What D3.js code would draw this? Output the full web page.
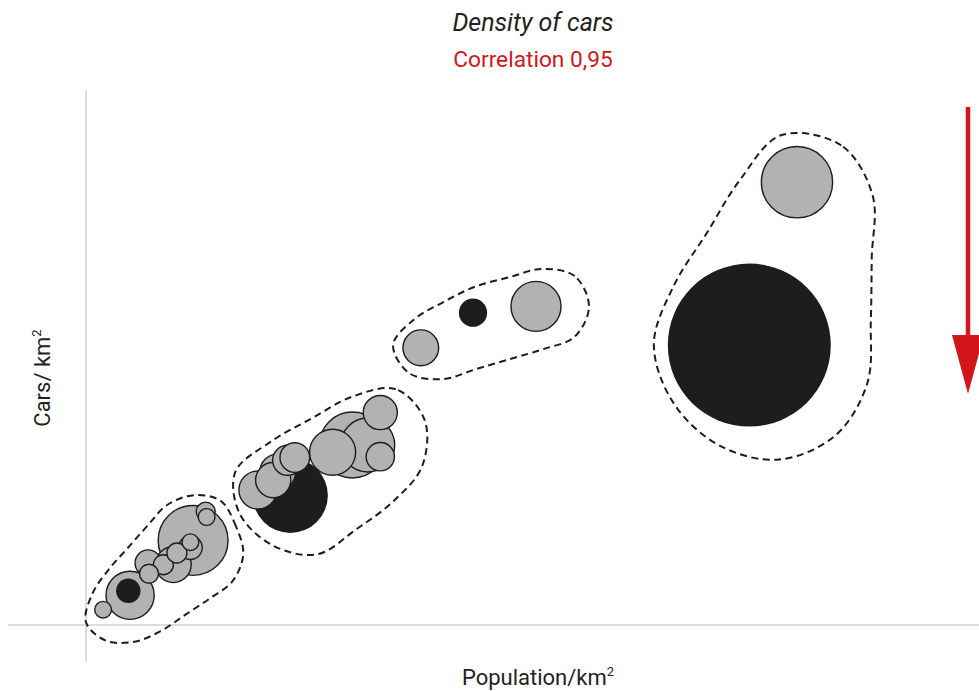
<!DOCTYPE html>
<html>
<head>
<meta charset="utf-8">
<script src="https://cdn.jsdelivr.net/npm/d3@7"></script>
<style>
  body { margin: 0; background: #fff; }
  text { font-family: Roboto, "Noto Sans", sans-serif; }
</style>
</head>
<body>
<div id="chart"></div>
<script>
// one entry per country: population/km2, cars/km2, bubble size, highlighted (black), cluster
var popDensity = [1.9, 4.9, 4.7, 7.0, 6.9, 8.6, 9.7, 10.1, 11.6, 11.6, 11.9, 13.3, 13.4,
                  22.7, 19.1, 20.8, 21.3, 22.4, 23.2, 27.4, 29.6, 31.3, 32.7, 32.7,
                  37.2, 43.0, 50.0,
                  73.7, 79.0];
var carDensity = [1.7, 3.3, 3.8, 5.7, 6.9, 6.7, 6.7, 8.0, 8.6, 9.2, 9.4, 12.6, 12.0,
                  14.4, 15.0, 16.1, 17.0, 18.3, 18.6, 19.2, 20.0, 20.0, 23.6, 18.7,
                  30.8, 34.7, 35.4,
                  31.1, 49.2];
var sizes = [0.7, 5.8, 1.5, 0.9, 1.7, 1.0, 3.2, 1.0, 1.4, 0.7, 12.2, 0.9, 0.7,
             14.1, 3.6, 3.1, 3.2, 2.25, 2.2, 5.3, 10.9, 7.3, 2.9, 2.0,
             3.2, 2.0, 6.25,
             66.4, 12.7];
var highlight = [0, 0, 1, 0, 0, 0, 0, 0, 0, 0, 0, 0, 0,
                 1, 0, 0, 0, 0, 0, 0, 0, 0, 0, 0,
                 0, 1, 0,
                 1, 0];
var cluster = [1, 1, 1, 1, 1, 1, 1, 1, 1, 1, 1, 1, 1,
               2, 2, 2, 2, 2, 2, 2, 2, 2, 2, 2,
               3, 3, 3,
               4, 4];

var title = "Density of cars",
    subtitle = "Correlation 0,95",
    xLabel = "Population/km",
    yLabel = "Cars/ km";

var width = 979,
    height = 691;

// envelope style per cluster: base padding, extra padding, direction of the extra (deg), samples
var hullStyle = {
  1: {pad: 9, extra: 14, dir: 70, n: 16},
  2: {pad: 10, extra: 20, dir: 35, n: 12},
  3: {pad: 10, extra: 18, dir: 0, n: 14},
  4: {pad: 14, extra: 30, dir: 35, n: 14}
};

var grey = "#b3b2b0",
    ink = "#1d1d1b",
    red = "#d2161c";

var x = d3.scaleLinear().domain([0, 100]).range([86, 986]),
    y = d3.scaleLinear().domain([0, 60]).range([625, 85]),
    r = d3.scaleSqrt().domain([0, 100]).range([0, 100]);

var data = popDensity.map(function(d, i) {
  return {pop: d, cars: carDensity[i], size: sizes[i], black: highlight[i] === 1, cluster: cluster[i]};
});

var svg = d3.select("#chart").append("svg")
    .attr("width", width)
    .attr("height", height);

// axis lines
svg.append("line")
    .attr("x1", x(0)).attr("x2", x(0))
    .attr("y1", 90).attr("y2", 662)
    .attr("stroke", "#dcdcdc").attr("stroke-width", 2);

svg.append("line")
    .attr("x1", 8).attr("x2", width)
    .attr("y1", y(0)).attr("y2", y(0))
    .attr("stroke", "#dcdcdc").attr("stroke-width", 2);

// even points along a closed polygon, so the curve gets rounder
function resample(poly, n) {
  var segs = [], total = 0;
  poly.forEach(function(p, i) {
    var q = poly[(i + 1) % poly.length],
        len = Math.hypot(q[0] - p[0], q[1] - p[1]);
    segs.push({p: p, q: q, start: total, len: len});
    total += len;
  });
  var out = [], j = 0;
  for (var k = 0; k < n; k++) {
    var s = k / n * total;
    while (segs[j].start + segs[j].len < s) j++;
    var t = segs[j].len ? (s - segs[j].start) / segs[j].len : 0;
    out.push([segs[j].p[0] + t * (segs[j].q[0] - segs[j].p[0]),
              segs[j].p[1] + t * (segs[j].q[1] - segs[j].p[1])]);
  }
  return out;
}

var line = d3.line().curve(d3.curveCatmullRomClosed.alpha(0.5));

d3.group(data, function(d) { return d.cluster; }).forEach(function(pts, key) {
  var st = hullStyle[key],
      dir = st.dir * Math.PI / 180,
      ring = [];
  pts.forEach(function(p) {
    for (var a = 0; a < 72; a++) {
      var t = a / 72 * 2 * Math.PI,
          rr = r(p.size) + st.pad + st.extra * Math.max(0, Math.cos(t - dir));
      ring.push([x(p.pop) + rr * Math.cos(t), y(p.cars) + rr * Math.sin(t)]);
    }
  });
  svg.append("path")
      .attr("d", line(resample(d3.polygonHull(ring), st.n)))
      .attr("fill", "none")
      .attr("stroke", ink)
      .attr("stroke-width", 2)
      .attr("stroke-dasharray", "7,4.5");
});

// bubbles, biggest first
svg.append("g").selectAll("circle")
    .data(data.slice().sort(function(a, b) { return b.size - a.size; }))
  .enter().append("circle")
    .attr("cx", function(d) { return x(d.pop); })
    .attr("cy", function(d) { return y(d.cars); })
    .attr("r", function(d) { return r(d.size); })
    .attr("fill", function(d) { return d.black ? ink : grey; })
    .attr("stroke", function(d) { return d.black ? "none" : ink; })
    .attr("stroke-width", 1.4);

// titles
svg.append("text")
    .attr("x", 533).attr("y", 31)
    .attr("text-anchor", "middle")
    .attr("font-size", 25)
    .attr("font-style", "italic")
    .attr("fill", "#222")
    .text(title);

svg.append("text")
    .attr("x", 533).attr("y", 67)
    .attr("text-anchor", "middle")
    .attr("font-size", 22.7)
    .attr("fill", red)
    .text(subtitle);

var xl = svg.append("text")
    .attr("x", 538).attr("y", 685)
    .attr("text-anchor", "middle")
    .attr("font-size", 22)
    .attr("fill", "#222")
    .text(xLabel);
xl.append("tspan").attr("dy", -9).attr("font-size", 13).text("2");

var yl = svg.append("text")
    .attr("transform", "translate(50,378) rotate(-90)")
    .attr("text-anchor", "middle")
    .attr("font-size", 22)
    .attr("fill", "#222")
    .text(yLabel);
yl.append("tspan").attr("dy", -9).attr("font-size", 13).text("2");

// red arrow on the right
svg.append("line")
    .attr("x1", 968).attr("x2", 968)
    .attr("y1", 107).attr("y2", 340)
    .attr("stroke", red).attr("stroke-width", 4.5);

svg.append("path")
    .attr("d", "M952,335L984,335L968,394Z")
    .attr("fill", red);
</script>
</body>
</html>
